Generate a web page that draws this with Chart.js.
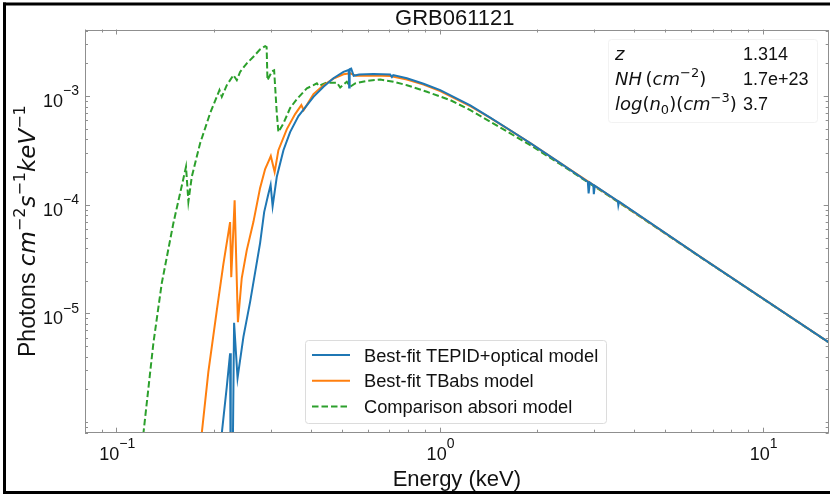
<!DOCTYPE html>
<html>
<head>
<meta charset="utf-8">
<script src="https://cdn.jsdelivr.net/npm/chart.js@4.4.0/dist/chart.umd.min.js"></script>
<style>
  html, body { margin: 0; padding: 0; background: #fff; }
</style>
</head>
<body>
<canvas id="spec" width="830" height="494"></canvas>
<script>
// model spectra, energy in keV and flux in photons cm^-2 s^-1 keV^-1
const tepidE = [0.2080, 0.2120, 0.2197, 0.2249, 0.2260, 0.2285, 0.2314, 0.2372, 0.2473, 0.2594,
  0.2785, 0.2867, 0.2949, 0.3002, 0.3045, 0.3137, 0.3289, 0.3449, 0.3660, 0.3784,
  0.4074, 0.4375, 0.4696, 0.5044, 0.5235, 0.5253, 0.5272, 0.5329, 0.5426, 0.5640,
  0.6248, 0.7035, 0.7122, 0.7190, 0.7926, 0.8923, 1.005, 1.245, 1.435, 1.655,
  1.909, 2.364, 2.876, 2.893, 2.917, 2.991, 3.002, 3.023, 3.563, 3.575,
  3.595, 6.413, 11.34, 16.2];
const tepidF = [4.5e-7, 7.9e-7, 2.12e-6, 4.3e-6, 1.9e-7, 1.9e-7, 8.2e-6, 2.55e-6, 6.1e-6, 1.28e-5,
  4.44e-5, 8.57e-5, 1.23e-4, 1.52e-4, 9.7e-5, 1.81e-4, 3.18e-4, 4.67e-4, 6.55e-4, 7.43e-4,
  9.85e-4, 1.22e-3, 1.46e-3, 1.67e-3, 1.74e-3, 1.2e-3, 1.77e-3, 1.79e-3, 1.54e-3, 1.58e-3,
  1.6e-3, 1.58e-3, 1.5e-3, 1.56e-3, 1.46e-3, 1.3e-3, 1.135e-3, 8.2e-4, 6.35e-4, 4.85e-4,
  3.7e-4, 2.42e-4, 1.63e-4, 1.27e-4, 1.6e-4, 1.52e-4, 1.25e-4, 1.5e-4, 1.08e-4, 9.9e-5,
  1.07e-4, 3.32e-5, 1.075e-5, 5.3e-6];

const tbabsE = [0.1803, 0.1838, 0.1926, 0.2046, 0.2144, 0.2249, 0.2268, 0.2323, 0.2378, 0.2444,
  0.2533, 0.2655, 0.2785, 0.2887, 0.2960, 0.3006, 0.3089, 0.3173, 0.3370, 0.3575,
  0.3737, 0.3798, 0.4074, 0.4375, 0.4696, 0.5044, 0.5292, 0.5510, 0.6248, 0.7035,
  0.7926, 0.8923, 1.005, 1.245, 1.435, 1.655, 1.909, 2.364, 3.626, 6.413,
  11.34, 16.2];
const tbabsF = [3.6e-7, 7.9e-7, 2.89e-6, 1.07e-5, 2.85e-5, 6.93e-5, 2.16e-5, 1.1e-4, 8.3e-6, 2.12e-5,
  3.83e-5, 6.93e-5, 1.43e-4, 2.13e-4, 2.52e-4, 2.81e-4, 2.0e-4, 3.18e-4, 4.97e-4, 6.83e-4,
  8.26e-4, 7.43e-4, 1.043e-3, 1.26e-3, 1.45e-3, 1.59e-3, 1.62e-3, 1.54e-3, 1.55e-3, 1.53e-3,
  1.42e-3, 1.28e-3, 1.11e-3, 8.1e-4, 6.3e-4, 4.83e-4, 3.69e-4, 2.42e-4, 1.04e-4, 3.32e-5,
  1.075e-5, 5.3e-6];

const absoriE = [0.1184, 0.1213, 0.1302, 0.1382, 0.1501, 0.1609, 0.1643, 0.1671, 0.1712, 0.1816,
  0.1950, 0.2085, 0.2120, 0.2197, 0.2303, 0.2359, 0.2415, 0.2533, 0.2655, 0.2785,
  0.2887, 0.2918, 0.2935, 0.3034, 0.3078, 0.3137, 0.3173, 0.3289, 0.3449, 0.3618,
  0.3886, 0.4074, 0.4173, 0.4227, 0.4479, 0.4813, 0.4928, 0.5167, 0.5292, 0.5483,
  0.5958, 0.6554, 0.7204, 0.7926, 0.9142, 1.079, 1.245, 1.435, 1.655, 1.909,
  2.364, 3.626, 6.413, 11.34, 16.2];
const absoriF = [4.2e-7, 7.9e-7, 5.31e-6, 1.89e-5, 6.74e-5, 1.69e-4, 2.24e-4, 1.07e-4, 1.81e-4, 3.67e-4,
  6.93e-4, 1.135e-3, 9.85e-4, 1.26e-3, 1.56e-3, 1.4e-3, 1.67e-3, 2.0e-3, 2.3e-3, 2.69e-3,
  2.88e-3, 2.82e-3, 1.4e-3, 1.7e-3, 1.73e-3, 6.93e-4, 4.67e-4, 5.61e-4, 7.76e-4, 9.38e-4,
  1.18e-3, 1.26e-3, 1.31e-3, 1.24e-3, 1.33e-3, 1.33e-3, 1.2e-3, 1.355e-3, 1.22e-3, 1.31e-3,
  1.38e-3, 1.42e-3, 1.355e-3, 1.26e-3, 1.096e-3, 9.19e-4, 7.43e-4, 5.8e-4, 4.54e-4, 3.54e-4,
  2.36e-4, 1.03e-4, 3.3e-5, 1.07e-5, 5.28e-6];

const seriesNames = ['Best-fit TEPID+optical model', 'Best-fit TBabs model', 'Comparison absori model'];
const xTickVals = [0.1, 1, 10];
const yTickVals = [1e-3, 1e-4, 1e-5];
const paramValues = ['1.314', '1.7e+23', '3.7'];

const SANS = '"Liberation Sans", Arial, sans-serif';
const MATH = '"DejaVu Sans", sans-serif';
const SPINE = '#8f8f8f';

// pieces of mixed text: [text, kind]
// kinds: r = sans, i = math italic, m = math upright, sup/sub = math scripts, rsup = sans superscript
function fontFor(kind, size) {
  switch (kind) {
    case 'i': return `italic ${size}px ${MATH}`;
    case 'm': return `${size}px ${MATH}`;
    case 'sup':
    case 'sub': return `${Math.round(size * 0.7)}px ${MATH}`;
    case 'rsup': return `${Math.round(size * 0.78)}px ${SANS}`;
    default: return `${size}px ${SANS}`;
  }
}
function shiftFor(kind, size) {
  if (kind === 'sup') return -0.42 * size;
  if (kind === 'sub') return 0.2 * size;
  if (kind === 'rsup') return -0.66 * size;
  return 0;
}
function richText(ctx, parts, x, y, size, align) {
  let total = 0;
  const items = parts.map(([t, k]) => {
    ctx.font = fontFor(k, size);
    const w = ctx.measureText(t).width;
    total += w;
    return { t, k, w };
  });
  let cx = align === 'center' ? x - total / 2 : align === 'right' ? x - total : x;
  ctx.textAlign = 'left';
  ctx.textBaseline = 'alphabetic';
  items.forEach(it => {
    ctx.font = fontFor(it.k, size);
    ctx.fillText(it.t, cx, y + shiftFor(it.k, size));
    cx += it.w;
  });
}
function expOf(v) {
  return String(Math.round(Math.log10(v))).replace('-', '\u2212');
}
function isDecadeStep(v) {
  const m = v / Math.pow(10, Math.floor(Math.log10(v) + 1e-9));
  return Math.abs(m - Math.round(m)) < 1e-6;
}
function isIn(list, v) {
  return list.some(t => Math.abs(t - v) / t < 1e-6);
}

const frame = {
  id: 'frame',
  beforeDraw(chart) {
    const ctx = chart.ctx;
    ctx.save();
    ctx.fillStyle = '#fff';
    ctx.fillRect(0, 0, chart.width, chart.height);
    ctx.restore();
  },
  afterDraw(chart) {
    const ctx = chart.ctx;
    const a = chart.chartArea;
    const xs = chart.scales.x, ys = chart.scales.y;
    ctx.save();

    // inward ticks on all four sides
    ctx.strokeStyle = SPINE;
    ctx.lineWidth = 1;
    ctx.beginPath();
    xs.ticks.forEach(t => {
      if (!isDecadeStep(t.value)) return;
      const p = Math.round(xs.getPixelForValue(t.value)) + 0.5;
      const len = isIn(xTickVals, t.value) ? 5 : 3;
      ctx.moveTo(p, a.bottom); ctx.lineTo(p, a.bottom - len);
      ctx.moveTo(p, a.top); ctx.lineTo(p, a.top + len);
    });
    ys.ticks.forEach(t => {
      if (!isDecadeStep(t.value)) return;
      const p = Math.round(ys.getPixelForValue(t.value)) + 0.5;
      const len = isIn(yTickVals, t.value) ? 5 : 3;
      ctx.moveTo(a.left, p); ctx.lineTo(a.left + len, p);
      ctx.moveTo(a.right, p); ctx.lineTo(a.right - len, p);
    });
    ctx.stroke();
    ctx.strokeRect(Math.round(a.left) + 0.5, Math.round(a.top) + 0.5,
      Math.round(a.right - a.left) - 1, Math.round(a.bottom - a.top) - 1);

    // tick labels
    ctx.fillStyle = '#111';
    xTickVals.forEach(v => {
      richText(ctx, [['10', 'r'], [expOf(v), 'rsup']], xs.getPixelForValue(v) + 1, a.bottom + 27.5, 18, 'center');
    });
    yTickVals.forEach(v => {
      richText(ctx, [['10', 'r'], [expOf(v), 'rsup']], a.left - 6, ys.getPixelForValue(v) + 11, 18, 'right');
    });

    // axis titles and title
    richText(ctx, [['Energy (keV)', 'r']], (a.left + a.right) / 2, 486, 22, 'center');
    richText(ctx, [['GRB061121', 'r']], (a.left + a.right) / 2 - 2, 24.5, 22, 'center');
    ctx.save();
    ctx.translate(35, (a.top + a.bottom) / 2);
    ctx.rotate(-Math.PI / 2);
    richText(ctx, [['Photons ', 'r'], ['cm', 'i'], ['\u22122', 'sup'], ['s', 'i'], ['\u22121', 'sup'],
      ['keV', 'i'], ['\u22121', 'sup']], 0, 0, 23, 'center');
    ctx.restore();

    // legend
    ctx.fillStyle = 'rgba(255,255,255,0.8)';
    ctx.strokeStyle = '#dcdcdc';
    ctx.beginPath();
    ctx.roundRect(305.5, 340.5, 301, 83, 3);
    ctx.fill();
    ctx.stroke();
    chart.data.datasets.forEach((ds, i) => {
      const cy = 355 + i * 25.8;
      ctx.strokeStyle = ds.borderColor;
      ctx.lineWidth = 2;
      ctx.setLineDash(ds.borderDash || []);
      ctx.beginPath();
      ctx.moveTo(312, cy); ctx.lineTo(350, cy);
      ctx.stroke();
      ctx.setLineDash([]);
      ctx.fillStyle = '#111';
      richText(ctx, [[ds.label, 'r']], 364, cy + 6.5, 18.3, 'left');
    });

    // fit parameter box
    ctx.fillStyle = 'rgba(255,255,255,0.8)';
    ctx.strokeStyle = '#f2f2f2';
    ctx.lineWidth = 1;
    ctx.beginPath();
    ctx.roundRect(608.5, 39.5, 209, 83, 3);
    ctx.fill();
    ctx.stroke();
    const paramLabels = [
      [['z', 'i']],
      [['NH', 'i'], ['\u2009(', 'm'], ['cm', 'i'], ['\u22122', 'sup'], [')', 'm']],
      [['log', 'i'], ['(', 'm'], ['n', 'i'], ['0', 'sub'], [')(', 'm'], ['cm', 'i'], ['\u22123', 'sup'], [')', 'm']]
    ];
    ctx.fillStyle = '#111';
    paramLabels.forEach((parts, i) => {
      const by = 60 + i * 25;
      richText(ctx, parts, 615, by, 18, 'left');
      richText(ctx, [[paramValues[i], 'r']], 743, by, 18, 'left');
    });

    // outer figure border
    ctx.fillStyle = '#000';
    ctx.fillRect(3, 2.5, 3, 491);
    ctx.fillRect(3, 2.5, 827, 3);
    ctx.fillRect(3, 491, 827, 3);
    ctx.restore();
  }
};

const curves = [
  { e: tepidE, f: tepidF, color: '#1f77b4', dash: [] },
  { e: tbabsE, f: tbabsF, color: '#ff7f0e', dash: [] },
  { e: absoriE, f: absoriF, color: '#2ca02c', dash: [6.5, 3] }
];

new Chart(document.getElementById('spec'), {
  type: 'scatter',
  data: {
    datasets: curves.map((c, i) => ({
      label: seriesNames[i],
      data: c.e.map((e, k) => ({ x: e, y: c.f[k] })),
      borderColor: c.color,
      backgroundColor: c.color,
      borderWidth: 2,
      borderDash: c.dash,
      showLine: true,
      pointRadius: 0,
      tension: 0,
      order: i,
      clip: 0
    }))
  },
  options: {
    responsive: false,
    animation: false,
    devicePixelRatio: 1,
    layout: { padding: { top: 29.5, right: 1.3, left: 0, bottom: 0 } },
    plugins: { legend: { display: false }, tooltip: { enabled: false } },
    scales: {
      x: {
        type: 'logarithmic', min: 0.08, max: 16,
        grid: { display: false }, border: { display: false },
        ticks: { display: false, autoSkip: false },
        afterFit: s => { s.height = 61.3; }
      },
      y: {
        type: 'logarithmic', min: 8.0e-7, max: 4.1e-3,
        grid: { display: false }, border: { display: false },
        ticks: { display: false, autoSkip: false },
        afterFit: s => { s.width = 85; }
      }
    }
  },
  plugins: [frame]
});
</script>
</body>
</html>
